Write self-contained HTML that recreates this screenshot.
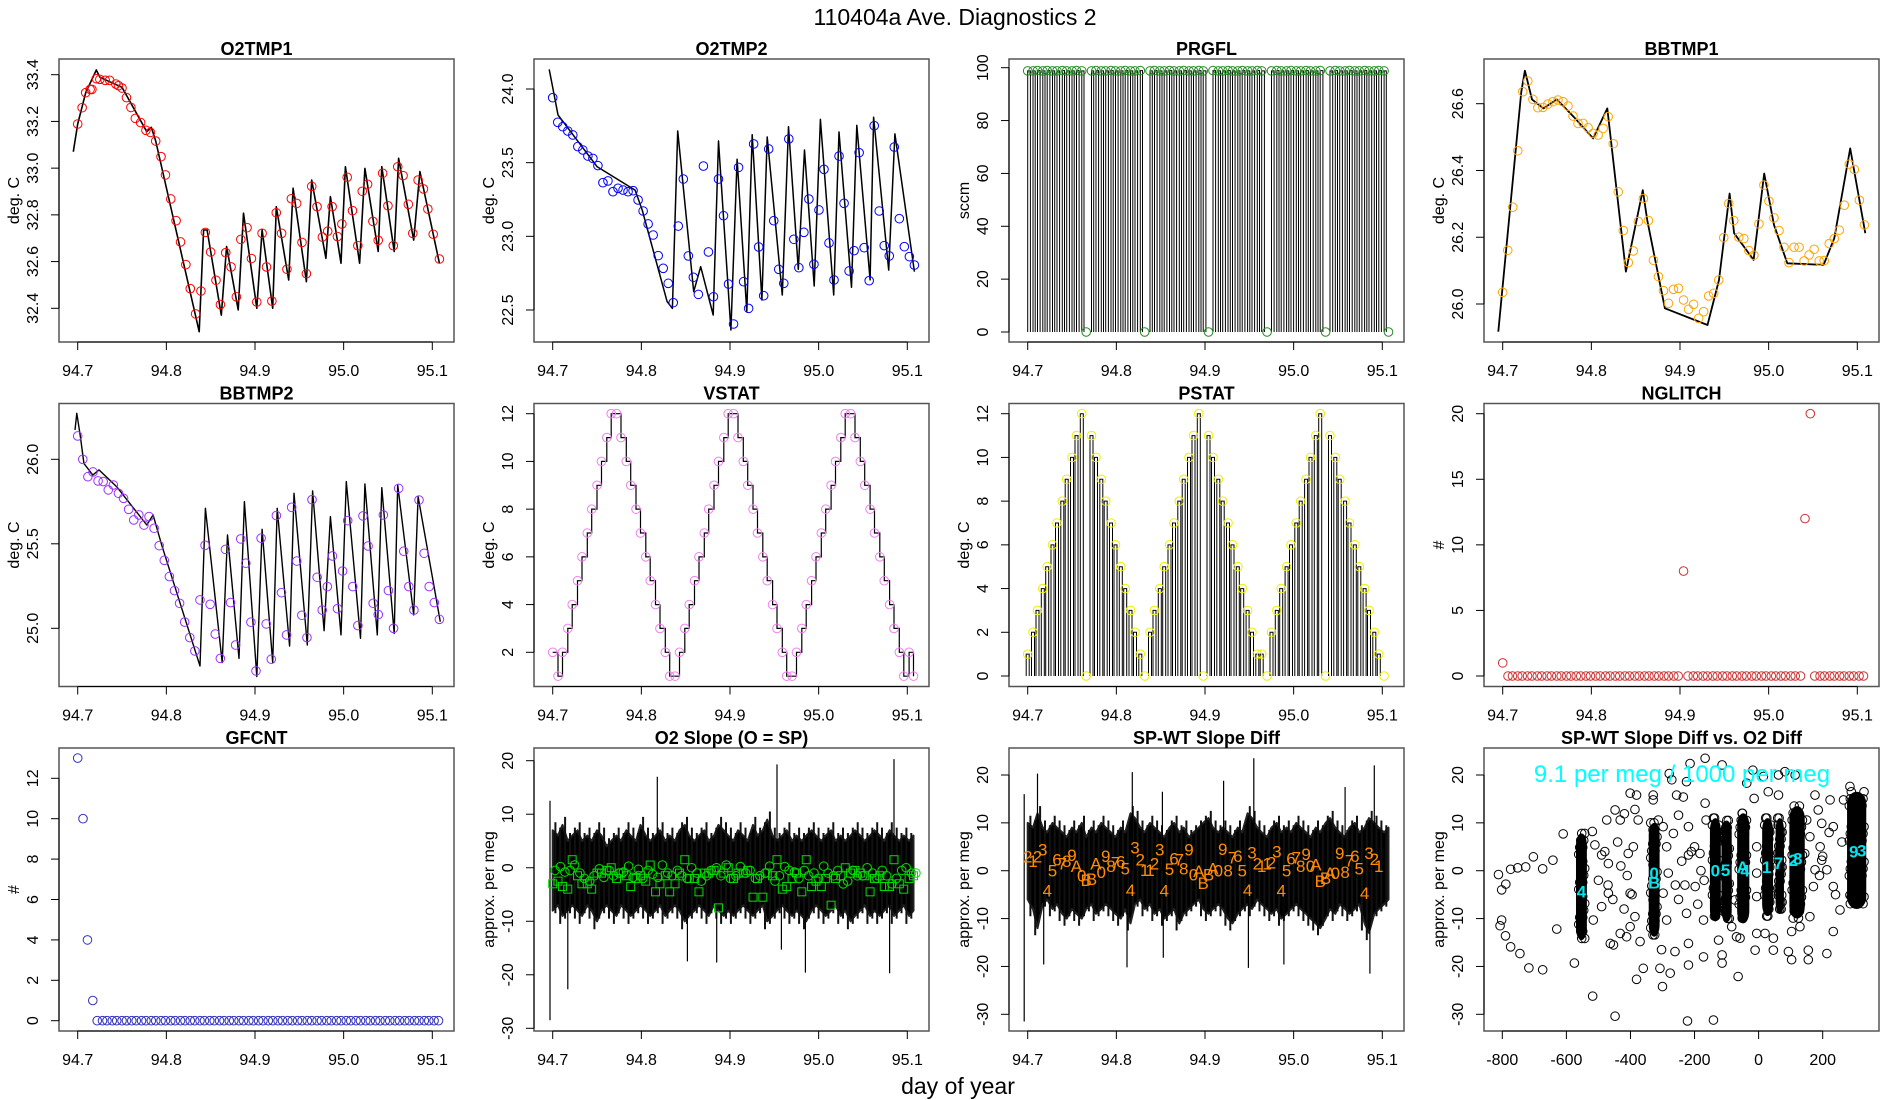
<!DOCTYPE html>
<html><head><meta charset="utf-8"><title>110404a Ave. Diagnostics 2</title>
<style>
html,body{margin:0;padding:0;background:#fff;}
svg{display:block;font-family:"Liberation Sans",Arial,sans-serif;}
</style></head>
<body>
<svg id="chart" width="1900" height="1100" viewBox="0 0 1900 1100" xmlns="http://www.w3.org/2000/svg">
<rect x="0" y="0" width="1900" height="1100" fill="#fff"/>
<text x="955" y="25" font-size="23" text-anchor="middle">110404a   Ave. Diagnostics 2</text>
<text x="958" y="1094" font-size="23" text-anchor="middle">day of year</text>
</svg>
<script>
// ---------- data ----------
const circleDays=[94.700,94.706,94.711,94.717,94.722,94.728,94.733,94.739,94.744,94.750,94.755,94.761,94.766,94.772,94.777,94.783,94.788,94.794,94.799,94.805,94.810,94.816,94.821,94.827,94.832,94.838,94.843,94.849,94.854,94.860,94.865,94.871,94.876,94.882,94.887,94.893,94.898,94.904,94.909,94.915,94.920,94.926,94.931,94.937,94.942,94.948,94.953,94.959,94.964,94.970,94.975,94.981,94.986,94.992,94.997,95.003,95.008,95.014,95.019,95.025,95.030,95.036,95.041,95.047,95.052,95.058,95.063,95.069,95.074,95.080,95.085,95.091,95.096,95.102,95.107];
const xTicks=[94.7,94.8,94.9,95.0,95.1];
const xTickLabels=["94.7","94.8","94.9","95.0","95.1"];

const o2tmp1Days=[94.700,94.705,94.709,94.714,94.716,94.721,94.725,94.731,94.736,94.743,94.746,94.750,94.755,94.760,94.765,94.771,94.777,94.782,94.788,94.794,94.799,94.805,94.811,94.816,94.822,94.827,94.833,94.839,94.844,94.850,94.856,94.861,94.867,94.873,94.879,94.884,94.891,94.896,94.902,94.908,94.913,94.919,94.924,94.930,94.936,94.941,94.947,94.953,94.958,94.964,94.970,94.976,94.982,94.987,94.993,94.998,95.004,95.010,95.016,95.021,95.027,95.033,95.039,95.044,95.050,95.056,95.061,95.067,95.073,95.078,95.084,95.090,95.095,95.101,95.108];
const o2tmp1Circles=[33.189,33.259,33.323,33.337,33.337,33.383,33.380,33.376,33.376,33.360,33.353,33.343,33.302,33.260,33.213,33.195,33.162,33.153,33.116,33.049,32.971,32.868,32.775,32.684,32.587,32.484,32.376,32.474,32.725,32.641,32.520,32.416,32.638,32.577,32.449,32.695,32.745,32.613,32.427,32.721,32.577,32.431,32.809,32.721,32.567,32.869,32.849,32.682,32.548,32.922,32.835,32.705,32.730,32.835,32.707,32.761,32.961,32.818,32.668,32.901,32.931,32.772,32.691,32.978,32.839,32.668,33.006,32.968,32.845,32.721,32.949,32.911,32.825,32.717,32.611];
const o2tmp1LineDays=[94.695,94.700,94.709,94.721,94.725,94.750,94.778,94.783,94.788,94.837,94.842,94.846,94.862,94.868,94.881,94.887,94.902,94.908,94.920,94.924,94.938,94.943,94.958,94.964,94.980,94.985,94.997,95.002,95.018,95.024,95.039,95.043,95.057,95.062,95.079,95.086,95.108];
const o2tmp1LineVals=[33.070,33.189,33.323,33.420,33.389,33.346,33.156,33.175,33.116,32.300,32.735,32.735,32.371,32.664,32.393,32.807,32.400,32.735,32.400,32.835,32.521,32.914,32.514,32.949,32.614,32.878,32.593,33.006,32.593,32.999,32.643,33.006,32.643,33.042,32.692,32.985,32.593];

const o2tmp2Circles=[23.941,23.774,23.744,23.715,23.688,23.609,23.586,23.545,23.529,23.480,23.364,23.376,23.303,23.326,23.314,23.303,23.310,23.247,23.172,23.084,23.009,22.869,22.783,22.681,22.550,23.070,23.389,22.867,22.722,22.606,23.477,22.894,22.590,23.389,23.140,22.676,22.405,23.468,22.692,22.511,23.627,22.928,22.597,23.593,23.106,22.776,22.681,23.661,22.980,22.787,23.027,23.253,22.810,23.179,23.455,22.955,22.704,23.545,23.224,22.765,22.903,23.568,22.923,22.699,23.751,23.172,22.937,22.867,23.606,23.120,22.930,22.862,22.805];
const o2tmp2LineDays=[94.696,94.700,94.706,94.750,94.793,94.801,94.829,94.835,94.841,94.859,94.867,94.881,94.887,94.901,94.908,94.919,94.925,94.936,94.942,94.959,94.966,94.977,94.984,94.995,95.002,95.017,95.023,95.037,95.043,95.058,95.062,95.079,95.086,95.108];
const o2tmp2LineVals=[24.133,24.011,23.824,23.473,23.314,23.179,22.557,22.511,23.715,22.624,22.794,22.466,23.647,22.364,23.523,22.489,23.690,22.568,23.674,22.602,23.744,22.776,23.586,22.663,23.794,22.602,23.708,22.654,23.753,22.704,23.808,22.771,23.695,22.760];

const prgflVals=[98.8,98.8,98.9,98.8,98.9,98.8,98.8,98.9,98.8,98.8,98.9,98.8,0,98.8,98.9,98.8,98.8,98.9,98.8,98.8,98.9,98.8,98.8,98.9,0,98.8,98.9,98.8,98.8,98.9,98.8,98.8,98.9,98.8,98.8,98.9,98.8,0,98.9,98.8,98.8,98.9,98.8,98.8,98.9,98.8,98.8,98.9,98.8,0,98.8,98.9,98.8,98.8,98.9,98.8,98.8,98.9,98.8,98.8,98.9,0,98.8,98.9,98.8,98.8,98.9,98.8,98.8,98.9,98.8,98.8,98.9,98.8,0];

const bbtmp1Circles=[26.035,26.161,26.290,26.459,26.636,26.668,26.613,26.588,26.589,26.599,26.606,26.611,26.606,26.593,26.563,26.541,26.541,26.528,26.511,26.506,26.526,26.561,26.480,26.336,26.220,26.124,26.159,26.247,26.316,26.250,26.131,26.082,26.040,26.002,26.044,26.047,26.012,25.984,25.999,25.957,25.977,26.024,26.032,26.072,26.199,26.301,26.250,26.200,26.196,26.160,26.146,26.240,26.356,26.308,26.258,26.220,26.170,26.124,26.170,26.170,26.129,26.147,26.164,26.129,26.130,26.181,26.196,26.221,26.296,26.419,26.403,26.311,26.237];
const bbtmp1LineDays=[94.695,94.721,94.725,94.733,94.746,94.761,94.780,94.802,94.818,94.839,94.858,94.863,94.883,94.931,94.944,94.956,94.961,94.983,94.995,95.006,95.021,95.062,95.074,95.092,95.109];
const bbtmp1LineVals=[25.917,26.636,26.699,26.613,26.586,26.613,26.561,26.496,26.586,26.097,26.341,26.252,25.987,25.937,26.072,26.331,26.212,26.132,26.391,26.237,26.122,26.117,26.197,26.466,26.212];

const bbtmp2Circles=[26.138,26.0,25.897,25.925,25.872,25.868,25.819,25.848,25.799,25.769,25.704,25.641,25.671,25.611,25.661,25.592,25.489,25.402,25.306,25.223,25.148,25.037,24.945,24.866,25.168,25.491,25.142,24.966,24.822,25.467,25.152,24.901,25.529,25.385,25.036,24.748,25.533,25.026,24.817,25.667,25.211,24.961,25.716,25.398,25.077,24.945,25.761,25.302,25.108,25.247,25.428,25.116,25.339,25.637,25.247,25.016,25.665,25.487,25.148,25.081,25.671,25.223,25.0,25.828,25.456,25.247,25.108,25.759,25.444,25.247,25.152,25.053];
const bbtmp2LineDays=[94.697,94.699,94.703,94.707,94.717,94.724,94.744,94.778,94.785,94.795,94.838,94.844,94.863,94.869,94.882,94.888,94.902,94.908,94.920,94.925,94.939,94.944,94.959,94.965,94.978,94.985,94.997,95.003,95.019,95.024,95.038,95.043,95.057,95.061,95.079,95.084,95.109];
const bbtmp2LineVals=[26.174,26.272,26.134,25.976,25.907,25.937,25.838,25.611,25.671,25.489,24.777,25.710,24.797,25.552,24.822,25.750,24.714,25.586,24.797,25.710,24.895,25.799,24.901,25.813,24.986,25.661,24.961,25.868,24.941,25.854,24.961,25.832,24.970,25.848,25.079,25.779,25.039];

const vstatVals=[2,1,2,3,4,5,6,7,8,9,10,11,12,12,11,10,9,8,7,6,5,4,3,2,1,1,2,3,4,5,6,7,8,9,10,11,12,12,11,10,9,8,7,6,5,4,3,2,1,1,2,3,4,5,6,7,8,9,10,11,12,12,11,10,9,8,7,6,5,4,3,2,1,2,1];
const pstatVals=[1,2,3,4,5,6,7,8,9,10,11,12,0,11,10,9,8,7,6,5,4,3,2,1,0,2,3,4,5,6,7,8,9,10,11,12,0,11,10,9,8,7,6,5,4,3,2,1,1,0,2,3,4,5,6,7,8,9,10,11,12,0,11,10,9,8,7,6,5,4,3,2,1,0];
const nglitchVals=[1,0,0,0,0,0,0,0,0,0,0,0,0,0,0,0,0,0,0,0,0,0,0,0,0,0,0,0,0,0,0,0,0,0,0,0,0,8,0,0,0,0,0,0,0,0,0,0,0,0,0,0,0,0,0,0,0,0,0,0,0,0,12,20,0,0,0,0,0,0,0,0,0,0,0];
const gfcntVals=[13,10,4,1,0,0,0,0,0,0,0,0,0,0,0,0,0,0,0,0,0,0,0,0,0,0,0,0,0,0,0,0,0,0,0,0,0,0,0,0,0,0,0,0,0,0,0,0,0,0,0,0,0,0,0,0,0,0,0,0,0,0,0,0,0,0,0,0,0,0,0,0,0,0,0];

const o2Upper=[7,6,8,5,6,7,5,6,5,7,6,4,5,6,5,7,6,5,8,6,5,6,7,5,6,5,7,8,6,5,6,7,5,6,8,7,6,5,7,6,5,8,6,7,9,6,5,6,7,5,6,5,6,7,6,5,6,7,5,6,5,6,7,6,5,6,7,6,5,7,6,5,6,5,6];
const o2Lower=[-8,-7,-9,-8,-7,-8,-9,-7,-8,-10,-8,-7,-8,-9,-7,-8,-9,-8,-7,-8,-9,-8,-7,-9,-8,-7,-8,-10,-9,-8,-7,-8,-9,-7,-8,-9,-8,-9,-8,-7,-8,-9,-8,-7,-10,-9,-8,-7,-8,-9,-8,-9,-10,-8,-7,-8,-9,-8,-7,-9,-8,-10,-9,-8,-7,-9,-8,-9,-8,-7,-9,-8,-7,-9,-8];
const o2SpikeDays=[94.697,94.697,94.717,94.818,94.852,94.885,94.953,94.958,94.985,95.085,95.080];
const o2SpikeVals=[12.5,-28.5,-22.7,17,-17.5,-17.7,19.3,-15.3,-19.6,20.3,-19.7];
const o2Squares=[-3,-2.5,-3.5,-4,1.5,-1.5,-3,-3,-4,-1,-1,-0.5,0,-2,-1,-1.5,-3.5,-2,-1.5,-2.5,0.5,-4.5,-3,-1.5,-4.5,-3,-1,1.5,-2,-2,-4.5,-1,-1,-0.5,-7.5,-1,0,-2,-1,-1,-0.5,-5.5,-2,-5.5,-1,-1.5,1.5,-4,-3.5,-2,-1,-4.5,1.5,-3.5,-2.5,-3.5,-2,-7,-2,-1.5,0,-1,-0.5,-1,-1.5,-4.5,-2,-1.5,-3.5,-3.5,1.5,-3,-4,-2,-1.5];
const o2Circles=[-0.5,0.2,-0.8,-0.5,0.5,-1,-2,-2.5,-1.5,-0.2,-1.8,-0.5,-1.5,-1,-0.8,0.3,-1.8,-0.3,-2,-0.5,-1.2,-1.8,0.5,-1,-1.5,-0.5,-1.5,-2,0,-1,-2.5,-1.5,-0.5,0,-1.5,0.5,-2,-1.5,0.2,-1,-0.5,-2,-1.5,-1,0.3,-2.5,-1.5,0.2,-0.5,-0.8,-2,-0.5,-1.5,-1,-2,0.3,-1,-1.5,-0.5,-3,-2.5,-0.5,-1.5,-1.5,0,-1,-2,-0.5,-1.5,-3,-2,-0.5,0,-1,-1];

const spUpper=[10,9,12,9,8,10,9,8,7,9,8,10,7,9,8,10,9,8,7,9,8,12,11,9,8,10,9,8,7,9,10,8,9,7,8,9,10,11,9,8,9,8,7,9,8,12,11,9,8,7,9,10,8,9,8,10,9,8,7,9,8,10,11,9,8,7,9,10,8,9,11,10,9,8,9];
const spLower=[-6,-8,-12,-7,-6,-8,-7,-9,-10,-8,-9,-10,-8,-7,-9,-8,-7,-8,-9,-10,-8,-11,-7,-6,-8,-7,-9,-8,-10,-9,-8,-11,-9,-8,-7,-6,-8,-9,-8,-7,-8,-10,-11,-9,-8,-7,-8,-6,-7,-8,-9,-8,-10,-9,-8,-7,-8,-9,-10,-11,-12,-10,-8,-9,-7,-8,-9,-8,-7,-11,-13,-9,-8,-7,-6];
const spSpikeDays=[94.696,94.696,94.711,94.718,94.812,94.818,94.852,94.853,94.921,94.949,94.955,94.989,95.058,95.086,95.091];
const spSpikeVals=[16,-31.5,20.3,-19.6,-20.2,20.6,16.5,-18.2,18.8,-20.3,23.5,-19.6,17.5,-21.5,22];
const spChars=["2","1","2","3","4","5","6","7","8","9","A","0","B","B","A","0","9","8","7","6","5","4","3","2","1","1","2","3","4","5","6","7","8","9","0","A","B","B","A","0","9","8","7","6","5","4","3","2","1","1","2","3","4","5","6","7","8","9","0","A","B","B","A","0","9","8","7","6","5","4","3","2","1"];
const spCharVals=[3,2,3,4.4,-4.1,0,2.3,1.5,2,3.3,1,-1,-1.9,-1.7,1.5,-0.3,3.1,1,1.7,1.9,0.5,-4,4.9,2.3,0.2,0.2,1.5,4.4,-4.1,0.4,2.6,2.3,0.5,4.4,-0.8,-0.1,-2.6,-0.8,0.5,0,4.5,0,2.8,3.1,0,-4,3.8,1.5,1,1.5,1.7,4,-4.1,0,2.6,2.8,1,3.5,1,1.3,-2.2,-1.5,-0.5,-0.5,3.7,-0.3,2.1,3.1,0.5,-4.7,3.7,2.4,1];

const scatX=[-812,-802,-789,-774,-752,-727,-703,-674,-642,-807,-802,-790,-774,-745,-717,-674,-630,-610,-575,-519,-518,-448,-511,-490,-469,-469,-490,-516,-474,-448,-432,-419,-401,-386,-381,-376,-391,-407,-401,-401,-412,-432,-453,-463,-386,-370,-381,-360,-329,-329,-313,-298,-287,-282,-298,-287,-303,-308,-300,-276,-261,-266,-250,-256,-235,-225,-214,-279,-271,-219,-219,-230,-225,-219,-219,-222,-198,-183,-172,-172,-167,-167,-164,-141,-125,-114,-114,-114,-84,-74,-69,-64,-58,-37,-18,-14,-11,-6,-6,-6,-6,15,30,20,46,46,62,62,82,93,103,103,114,129,155,155,160,171,176,186,197,213,223,233,233,254,265,285,285,176,144,192,213,150,197,160,233,-500,-480,-455,-430,-420,-470,-440,-410,-395,-250,-240,-200,-190,-180,-260,-210,-170,200,240,260,190,220,250];
const scatY=[-0.8,-4,-2.8,0.3,0.6,0.8,2.9,0.4,2.2,-11.5,-10.3,-13.6,-15.9,-17.3,-20.3,-20.7,-12.2,7.7,-19.3,8.2,-26.2,-30.4,5.4,3.3,1.5,-4.7,-7.5,-10.3,10.6,12.7,10.6,11.9,16.2,12.8,15.8,10.6,5,3.6,-4.7,-11.7,-13.8,-13.1,-15.5,-15.2,-9.6,-14.8,-22.7,-20.4,15.8,14.8,10.6,9.2,5,-0.5,-4.7,-10.3,-16.5,-20.4,-24.2,-21.4,-16.9,7.8,11.6,15.8,15.4,18.6,22.4,20.3,19,9.2,3.3,-3,-8.9,-15.2,-19.7,-31.4,-3.3,3.6,-10.3,-18,23.5,14.1,10.6,-31.2,-14.5,-17.6,-19.3,22.1,-11.7,-6.1,-13.8,-22.1,-14.1,18.3,21,15.1,-16.6,-13.1,-5.4,-0.5,5,19.7,16.5,-13.1,-16.6,-14.1,15.8,20,20.7,-16.9,-18.6,-12.7,20,-11.7,-16.6,-18.6,-9.6,-3.3,15.8,12.7,9.9,-17.3,14.8,-12.7,-3.3,-8.2,14.8,17.6,-5.1,0.2,3.6,5,0.2,10.6,2.2,7.1,9.2,-2,4,-6,1,-8,-3,6,-1,-5,-6,2,5,-7,0,-3,4,-2,3,-5,6,-1,8];
const clusterX=[-553,-326,-135,-100,-48,28,66,120,306];
const clusterHalfW=[17,17,17,16,19,17,13,24,30];
const clusterTop=[7.8,10,11,10.5,12,11,11,13.5,16.5];
const clusterBottom=[-14.5,-13.8,-10.6,-10.8,-11,-9.5,-9,-10,-8];
const cyanX=[-553,-326,-326,-135,-103,-50,-42,25,62,108,122,297,322];
const cyanY=[-4.3,-0.5,-2.5,0,0.2,0.8,0,0.8,1.6,2.2,2.6,4,4.2];
const cyanChars=["4","0","B","0","5","A","4","1","7","2","8","9","3"];

// ---------- drawing ----------
const NS='http://www.w3.org/2000/svg';
const svg=document.getElementById('chart');
function mk(tag,parent,name){
  const e=document.createElementNS(NS,tag);
  
  
  parent.appendChild(e);
  return e;
}
function at(e,o){for(const k in o)e.setAttribute(k,o[k]);return e;}
const LEFTS=[59,534,1009,1484], TOPS=[59,403.5,748], W=395, H=283;

function panel(col,row,name,title,ylab,v1,o1,v2,o2,yt,ytl,xcfg){
  const L=LEFTS[col],T=TOPS[row];
  const g=mk('g',svg,name+'-panel');
  const Y=v=>T+o1+(v-v1)*(o2-o1)/(v2-v1);
  let X,xt,xtl;
  if(xcfg){X=v=>L+xcfg.o1+(v-xcfg.v1)*(xcfg.o2-xcfg.o1)/(xcfg.v2-xcfg.v1);xt=xcfg.t;xtl=xcfg.tl;}
  else{X=v=>L+18.7+(v-94.7)*886.5;xt=xTicks;xtl=xTickLabels;}
  const box=mk('rect',g,name+'-plot-frame');
  at(box,{x:L,y:T,width:W,height:H,fill:'none',stroke:'#555','stroke-width':1.5});
  const tt=mk('text',g,name+'-title');
  at(tt,{x:L+W/2,y:T-4,'font-size':18,'font-weight':'bold','text-anchor':'middle'});tt.textContent=title;
  const yl=mk('text',g,name+'-y-axis-title');
  at(yl,{x:L-40,y:T+H/2,'font-size':16,'text-anchor':'middle',transform:`rotate(-90 ${L-40} ${T+H/2})`});yl.textContent=ylab;
  const xa=mk('line',g,name+'-x-axis');
  at(xa,{x1:X(xt[0]),x2:X(xt[xt.length-1]),y1:T+H,y2:T+H,stroke:'#000'});
  xt.forEach((v,i)=>{
    const tk=mk('line',g,name+'-x-tick');
    at(tk,{x1:X(v),x2:X(v),y1:T+H,y2:T+H+8,stroke:'#000'});
    const lb=mk('text',g,name+'-x-tick-label');
    at(lb,{x:X(v),y:T+317,'font-size':16,'text-anchor':'middle'});lb.textContent=xtl[i];
  });
  const ya=mk('line',g,name+'-y-axis');
  at(ya,{x1:L,x2:L,y1:Y(yt[0]),y2:Y(yt[yt.length-1]),stroke:'#000'});
  yt.forEach((v,i)=>{
    const tk=mk('line',g,name+'-y-tick');
    at(tk,{x1:L-8,x2:L,y1:Y(v),y2:Y(v),stroke:'#000'});
    const lb=mk('text',g,name+'-y-tick-label');
    at(lb,{x:L-21,y:Y(v),'font-size':16,'text-anchor':'middle',transform:`rotate(-90 ${L-21} ${Y(v)})`});lb.textContent=ytl[i];
  });
  return {g,X,Y,L,T};
}
function line(p,xs,ys,name,color,w){
  const e=mk('polyline',p.g,name);
  at(e,{points:xs.map((x,i)=>p.X(x).toFixed(1)+','+p.Y(ys[i]).toFixed(1)).join(' '),fill:'none',stroke:color||'#000','stroke-width':w||1.3,'stroke-linejoin':'round'});
  return e;
}
function circles(p,xs,ys,color,name){
  const n=Math.min(xs.length,ys.length);
  for(let i=0;i<n;i++){
    const c=mk('circle',p.g,name);
    at(c,{cx:p.X(xs[i]),cy:p.Y(ys[i]),r:4.3,fill:'none',stroke:color,'stroke-width':1});
  }
}
function spread(n){return circleDays.map((d,i)=>94.700+i*(0.408/(n-1))).slice(0,n);}

// Row 1
let p=panel(0,0,'o2tmp1','O2TMP1','deg. C',33.4,15.7,32.4,249.3,[32.4,32.6,32.8,33.0,33.2,33.4],["32.4","32.6","32.8","33.0","33.2","33.4"]);
line(p,o2tmp1LineDays,o2tmp1LineVals,'o2tmp1-line','#000',1.6);
circles(p,o2tmp1Days,o2tmp1Circles,'#f00','o2tmp1-point');

p=panel(1,0,'o2tmp2','O2TMP2','deg. C',24.0,30,22.5,251,[22.5,23.0,23.5,24.0],["22.5","23.0","23.5","24.0"]);
line(p,o2tmp2LineDays,o2tmp2LineVals,'o2tmp2-line','#000',1.5);
circles(p,spread(o2tmp2Circles.length),o2tmp2Circles,'#00f','o2tmp2-point');

p=panel(2,0,'prgfl','PRGFL','sccm',100,8.7,0,273,[0,20,40,60,80,100],["0","20","40","60","80","100"]);
{
  let d='';
  for(let i=0;i<prgflVals.length;i++){
    const x=p.X(circleDays[i]),x2=i<prgflVals.length-1?(p.X(circleDays[i])+p.X(circleDays[i+1]))/2:x;
    const y0=p.Y(0),yv=p.Y(prgflVals[i]);
    if(prgflVals[i]>0){d+=`M${x.toFixed(1)},${y0}V${yv.toFixed(1)}H${x2.toFixed(1)}V${y0}`;}
  }
  const e=mk('path',p.g,'prgfl-line');
  at(e,{d:d,fill:'none',stroke:'#000','stroke-width':1});
}
circles(p,circleDays,prgflVals,'#228b22','prgfl-point');

p=panel(3,0,'bbtmp1','BBTMP1','deg. C',26.6,44.7,26.0,245,[26.0,26.2,26.4,26.6],["26.0","26.2","26.4","26.6"]);
line(p,bbtmp1LineDays,bbtmp1LineVals,'bbtmp1-line','#000',1.8);
circles(p,spread(bbtmp1Circles.length),bbtmp1Circles,'#ffa500','bbtmp1-point');

// Row 2
p=panel(0,1,'bbtmp2','BBTMP2','deg. C',26.0,55.8,25.0,224.8,[25.0,25.5,26.0],["25.0","25.5","26.0"]);
line(p,bbtmp2LineDays,bbtmp2LineVals,'bbtmp2-line','#000',1.4);
circles(p,spread(bbtmp2Circles.length),bbtmp2Circles,'#9b30ff','bbtmp2-point');

p=panel(1,1,'vstat','VSTAT','deg. C',12,10.2,2,248.8,[2,4,6,8,10,12],["2","4","6","8","10","12"]);
{
  let d='';
  for(let i=0;i<vstatVals.length;i++){
    const x=p.X(circleDays[i]),y=p.Y(vstatVals[i]);
    d+=(i?`H${x.toFixed(1)}V${y.toFixed(1)}`:`M${x.toFixed(1)},${y.toFixed(1)}`);
  }
  const e=mk('path',p.g,'vstat-line');
  at(e,{d:d,fill:'none',stroke:'#000','stroke-width':1.2});
}
circles(p,circleDays,vstatVals,'#ee82ee','vstat-point');

p=panel(2,1,'pstat','PSTAT','deg. C',12,10.2,0,272.5,[0,2,4,6,8,10,12],["0","2","4","6","8","10","12"]);
{
  let d='';
  const y0=p.Y(0);
  for(let i=0;i<pstatVals.length;i++){
    const x=p.X(circleDays[i]),yv=p.Y(pstatVals[i]);
    if(pstatVals[i]>0) d+=`M${(x-1.5).toFixed(1)},${y0}V${yv.toFixed(1)}H${(x+1.5).toFixed(1)}V${y0}`;
  }
  const e=mk('path',p.g,'pstat-line');
  at(e,{d:d,fill:'none',stroke:'#000','stroke-width':1});
}
circles(p,circleDays,pstatVals,'#eeee00','pstat-point');

p=panel(3,1,'nglitch','NGLITCH','#',20,10.2,0,272.5,[0,5,10,15,20],["0","5","10","15","20"]);
circles(p,circleDays,nglitchVals,'#cd3333','nglitch-point');

// Row 3
p=panel(0,2,'gfcnt','GFCNT','#',12,30.3,0,272.7,[0,2,4,6,8,10,12],["0","2","4","6","8","10","12"]);
circles(p,circleDays,gfcntVals,'#3333bb','gfcnt-point');

function band(p,up,lo,sd,sv,name){
  const n=up.length;
  let pts=[];
  for(let i=0;i<n;i++)pts.push(p.X(circleDays[i]).toFixed(1)+','+p.Y(up[i]).toFixed(1));
  for(let i=n-1;i>=0;i--)pts.push(p.X(circleDays[i]).toFixed(1)+','+p.Y(lo[i]).toFixed(1));
  const e=mk('polygon',p.g,name+'-band');
  at(e,{points:pts.join(' '),fill:'#000',stroke:'#222','stroke-width':2,'stroke-linejoin':'round'});
  let d='';
  for(let i=0;i<n-1;i++){
    const xm=(p.X(circleDays[i])+p.X(circleDays[i+1]))/2;
    d+=`M${xm.toFixed(1)},${p.Y(up[i]+1.5).toFixed(1)}V${p.Y(lo[i+1]-1.5).toFixed(1)}`;
  }
  const f=mk('path',p.g,name+'-noise');
  at(f,{d:d,stroke:'#111','stroke-width':2,fill:'none'});
  let s='';
  sd.forEach((x,i)=>{s+=`M${p.X(x).toFixed(1)},${p.Y(0).toFixed(1)}V${p.Y(sv[i]).toFixed(1)}`;});
  const g=mk('path',p.g,name+'-spikes');
  at(g,{d:s,stroke:'#000','stroke-width':1.2,fill:'none'});
}
p=panel(1,2,'o2-slope','O2 Slope (O = SP)','approx. per meg',20,12.7,-30,280.3,[-30,-20,-10,0,10,20],["-30","-20","-10","0","10","20"]);
band(p,o2Upper,o2Lower,o2SpikeDays,o2SpikeVals,'o2-slope');
for(let i=0;i<o2Squares.length;i++){
  const s=mk('rect',p.g,'o2-slope-square');
  at(s,{x:p.X(circleDays[i])-4,y:p.Y(o2Squares[i])-4,width:8,height:8,fill:'none',stroke:'#00dd00','stroke-width':1});
}
circles(p,circleDays.map(d=>d+0.0027),o2Circles,'#00dd00','o2-slope-circle');

p=panel(2,2,'sp-wt','SP-WT Slope Diff','approx. per meg',20,27,-30,266.3,[-30,-20,-10,0,10,20],["-30","-20","-10","0","10","20"]);
band(p,spUpper,spLower,spSpikeDays,spSpikeVals,'sp-wt');
for(let i=0;i<spChars.length;i++){
  const t=mk('text',p.g,'sp-wt-code-label');
  at(t,{x:p.X(circleDays[i]),y:p.Y(spCharVals[i])+6,'font-size':17,fill:'#ff8c00','text-anchor':'middle'});
  t.textContent=spChars[i];
}

p=panel(3,2,'scatter','SP-WT Slope Diff vs. O2 Diff','approx. per meg',20,27,-30,266.3,[-30,-20,-10,0,10,20],["-30","-20","-10","0","10","20"],
  {v1:-800,o1:18.3,v2:200,o2:338.7,t:[-800,-600,-400,-200,0,200],tl:["-800","-600","-400","-200","0","200"]});
clusterX.forEach((cx,i)=>{
  const x1=p.X(cx-clusterHalfW[i]),x2=p.X(cx+clusterHalfW[i]),y1=p.Y(clusterTop[i]),y2=p.Y(clusterBottom[i]);
  const r=mk('rect',p.g,'scatter-dense-cluster');
  at(r,{x:x1,y:y1,width:x2-x1,height:y2-y1,rx:(x2-x1)/2,ry:12,fill:'#000'});
  for(let y=y1;y<=y2;y+=7){
    const c1=mk('circle',p.g,'scatter-cluster-edge-point');
    at(c1,{cx:x1+2+((y*7)%5),cy:y,r:4.3,fill:'none',stroke:'#000','stroke-width':1});
    const c2=mk('circle',p.g,'scatter-cluster-edge-point');
    at(c2,{cx:x2-2-((y*3)%5),cy:y,r:4.3,fill:'none',stroke:'#000','stroke-width':1});
  }
});
circles(p,scatX,scatY,'#000','scatter-point');
cyanChars.forEach((ch,i)=>{
  const t=mk('text',p.g,'scatter-cyan-label');
  at(t,{x:p.X(cyanX[i]),y:p.Y(cyanY[i])+6,'font-size':17,'font-weight':'bold',fill:'#00e5ee','text-anchor':'middle'});
  t.textContent=ch;
});
{
  const t=mk('text',p.g,'scatter-slope-annotation');
  at(t,{x:p.L+198,y:p.T+34,'font-size':24,fill:'#00ffff','text-anchor':'middle'});
  t.textContent='9.1 per meg / 1000 per meg';
}
</script>
</body></html>
